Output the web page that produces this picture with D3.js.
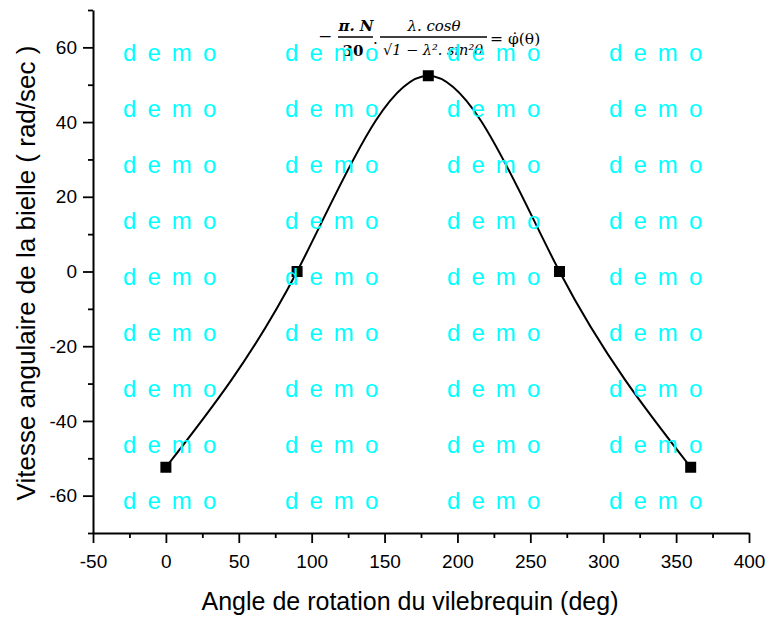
<!DOCTYPE html>
<html>
<head>
<meta charset="utf-8">
<script src="https://cdn.jsdelivr.net/npm/d3@7"></script>
<style>
  body { margin: 0; background: #fff; }
  text { font-family: "Liberation Sans", Arial, sans-serif; }
  .eq text { font-family: "DejaVu Serif", "Liberation Serif", serif; }
</style>
</head>
<body>
<div id="chart"></div>
<script>
// crank angle (deg) and rod angular speed (rad/sec) at the plotted points
var theta = [0, 90, 180, 270, 360]
var omega = [-52.4, 0, 52.4, 0, -52.4]
var xTicks = [-50, 0, 50, 100, 150, 200, 250, 300, 350, 400]
var xMinor = [-25, 25, 75, 125, 175, 225, 275, 325, 375]
var yTicks = [-60, -40, -20, 0, 20, 40, 60]
var yMinor = [-70, -50, -30, -10, 10, 30, 50, 70]
var watermarkCols = 4
var watermarkRows = 9

var width = 769, height = 621

var svg = d3.select('#chart').append('svg')
  .attr('width', width)
  .attr('height', height)

var x = d3.scaleLinear().domain([-50, 400]).range([93, 749])
var y = d3.scaleLinear().domain([-70, 70]).range([533, 10])

// minor ticks
svg.append('g')
  .attr('transform', 'translate(0,533)')
  .call(d3.axisBottom(x).tickValues(xMinor).tickSize(5).tickFormat(''))
  .call(g => g.select('.domain').remove())
  .selectAll('line').attr('stroke-width', 1.8)
svg.append('g')
  .attr('transform', 'translate(93,0)')
  .call(d3.axisLeft(y).tickValues(yMinor).tickSize(5).tickFormat(''))
  .call(g => g.select('.domain').remove())
  .selectAll('line').attr('stroke-width', 1.8)

// major axes
var xAxis = svg.append('g')
  .attr('transform', 'translate(0,533)')
  .call(d3.axisBottom(x).tickValues(xTicks).tickSize(10).tickSizeOuter(0)
    .tickPadding(12).tickFormat(d => String(d)))
xAxis.select('.domain').attr('stroke-width', 2)
xAxis.selectAll('line').attr('stroke-width', 1.8)
xAxis.selectAll('text').attr('font-size', 19).attr('fill', '#000')
  .style('font-family', '"Liberation Sans", Arial, sans-serif')

var yAxis = svg.append('g')
  .attr('transform', 'translate(93,0)')
  .call(d3.axisLeft(y).tickValues(yTicks).tickSize(10).tickSizeOuter(0)
    .tickPadding(6).tickFormat(d => String(d)))
yAxis.select('.domain').attr('stroke-width', 2)
yAxis.selectAll('line').attr('stroke-width', 1.8)
yAxis.selectAll('text').attr('font-size', 19).attr('fill', '#000')
  .style('font-family', '"Liberation Sans", Arial, sans-serif')

// axis titles
svg.append('text')
  .attr('x', 410).attr('y', 610)
  .attr('text-anchor', 'middle')
  .attr('font-size', 25)
  .text('Angle de rotation du vilebrequin (deg)')
svg.append('text')
  .attr('transform', 'translate(35,273) rotate(-90)')
  .attr('text-anchor', 'middle')
  .attr('font-size', 26)
  .text('Vitesse angulaire de la bielle ( rad/sec )')

// curve
var pts = theta.map((t, i) => [t, omega[i]])
svg.append('path')
  .datum(pts)
  .attr('fill', 'none')
  .attr('stroke', '#000')
  .attr('stroke-width', 2)
  .attr('d', d3.line().x(d => x(d[0])).y(d => y(d[1])).curve(d3.curveNatural))

svg.selectAll('rect.mark')
  .data(pts)
  .enter().append('rect')
  .attr('class', 'mark')
  .attr('x', d => x(d[0]) - 5.5)
  .attr('y', d => y(d[1]) - 5.5)
  .attr('width', 11)
  .attr('height', 11)
  .attr('fill', '#000')

// equation
var eq = svg.append('g').attr('class', 'eq')
eq.append('text').attr('x', 318).attr('y', 42).attr('font-size', 17).text('\u2212')
eq.append('text').attr('x', 356).attr('y', 31).attr('text-anchor', 'middle')
  .attr('font-size', 15).attr('font-weight', 'bold').attr('font-style', 'italic').text('\u03c0. N')
eq.append('line').attr('x1', 338).attr('x2', 373).attr('y1', 37).attr('y2', 37)
  .attr('stroke', '#000').attr('stroke-width', 1.3)
eq.append('text').attr('x', 353).attr('y', 56).attr('text-anchor', 'middle')
  .attr('font-size', 15).attr('font-weight', 'bold').text('30')
eq.append('text').attr('x', 373).attr('y', 44).attr('font-size', 15).text('.')
eq.append('text').attr('x', 434).attr('y', 31).attr('text-anchor', 'middle')
  .attr('font-size', 15).attr('font-style', 'italic').text('\u03bb. cos\u03b8')
eq.append('line').attr('x1', 380).attr('x2', 487).attr('y1', 37).attr('y2', 37)
  .attr('stroke', '#000').attr('stroke-width', 1.3)
eq.append('text').attr('x', 433).attr('y', 55).attr('text-anchor', 'middle')
  .attr('font-size', 14.5).attr('font-style', 'italic').text('\u221a1 \u2212 \u03bb\u00b2. sin\u00b2\u03b8')
eq.append('text').attr('x', 490).attr('y', 44).attr('font-size', 15.5)
  .text('= \u03c6\u0307(\u03b8)')

// watermark
var wm = []
for (var r = 0; r < watermarkRows; r++) {
  for (var c = 0; c < watermarkCols; c++) wm.push([c, r])
}
svg.append('g').selectAll('text')
  .data(wm)
  .enter().append('text')
  .attr('x', d => 123 + d[0] * 162)
  .attr('y', d => 61 + d[1] * 56)
  .attr('font-size', 24)
  .attr('letter-spacing', 2.2)
  .attr('fill', '#00ffff')
  .text('d e m o')
</script>
</body>
</html>
